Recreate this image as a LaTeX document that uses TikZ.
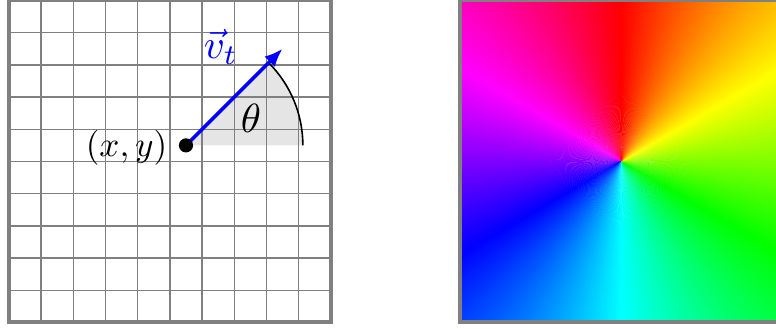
\documentclass[tikz,border=0pt]{standalone}
\usetikzlibrary{arrows.meta}
\tikzset{
  gridline/.style={draw=gray, line width=1.3pt},
  framebox/.style={draw=gray, line width=3.5pt},
  vecarrow/.style={draw=blue, line width=3.1pt, -{Latex[length=16pt,width=13pt]}},
  anglearc/.style={draw=black, line width=1.4pt},
  sector/.style={fill=gray!20},
  bigdot/.style={circle, fill=black, inner sep=0pt, minimum size=0.44cm},
}
\begin{document}
\begin{tikzpicture}
\useasboundingbox (0,0) rectangle (24.1,10.217);
% ---------- left panel ----------
\coordinate (G0) at (0.276,0.202);
\coordinate (G1) at (10.276,10.202);
\coordinate (P) at (5.776,5.702);
\coordinate (T) at (8.776,8.702);
\fill[sector] (P) -- ++(0:3.63) arc[start angle=0, end angle=45, radius=3.63] -- cycle;
\begin{scope}[shift={(G0)}]
  \foreach \i in {1,...,9} {
    \draw[gridline] (\i,0) -- (\i,10);
    \draw[gridline] (0,\i) -- (10,\i);
  }
\end{scope}
\draw[framebox] (G0) rectangle (G1);
\draw[anglearc] (P) ++(0:3.63) arc[start angle=0, end angle=45, radius=3.63];
\draw[vecarrow] (P) -- (T);
\node[bigdot] (dot) at (P) {};
\node[scale=3.1] (xy) at (3.93,5.637) {$(x,y)$};
\node[scale=3.6] (th) at (7.795,6.553) {$\theta$};
\node[scale=3.6, text=blue] (vt) at (6.863,8.758) {$\vec{v}_t$};
% ---------- right panel ----------
\coordinate (R0) at (14.30,0.202);
\coordinate (R1) at (24.30,10.202);
\coordinate (C) at (19.30,5.202);
\begin{scope}
  \clip (R0) rectangle (R1);
  \foreach \a in {0,...,359} {
    \pgfmathsetmacro\hh{mod(450-\a-0.5,360)/360}
    \definecolor{wc}{hsb}{\hh,1,1}
    \fill[wc] (C) -- +(\a:8) -- +(\a+1.4:8) -- cycle;
  }
\end{scope}
\draw[framebox] (R0) rectangle (R1);
\end{tikzpicture}
\end{document}
